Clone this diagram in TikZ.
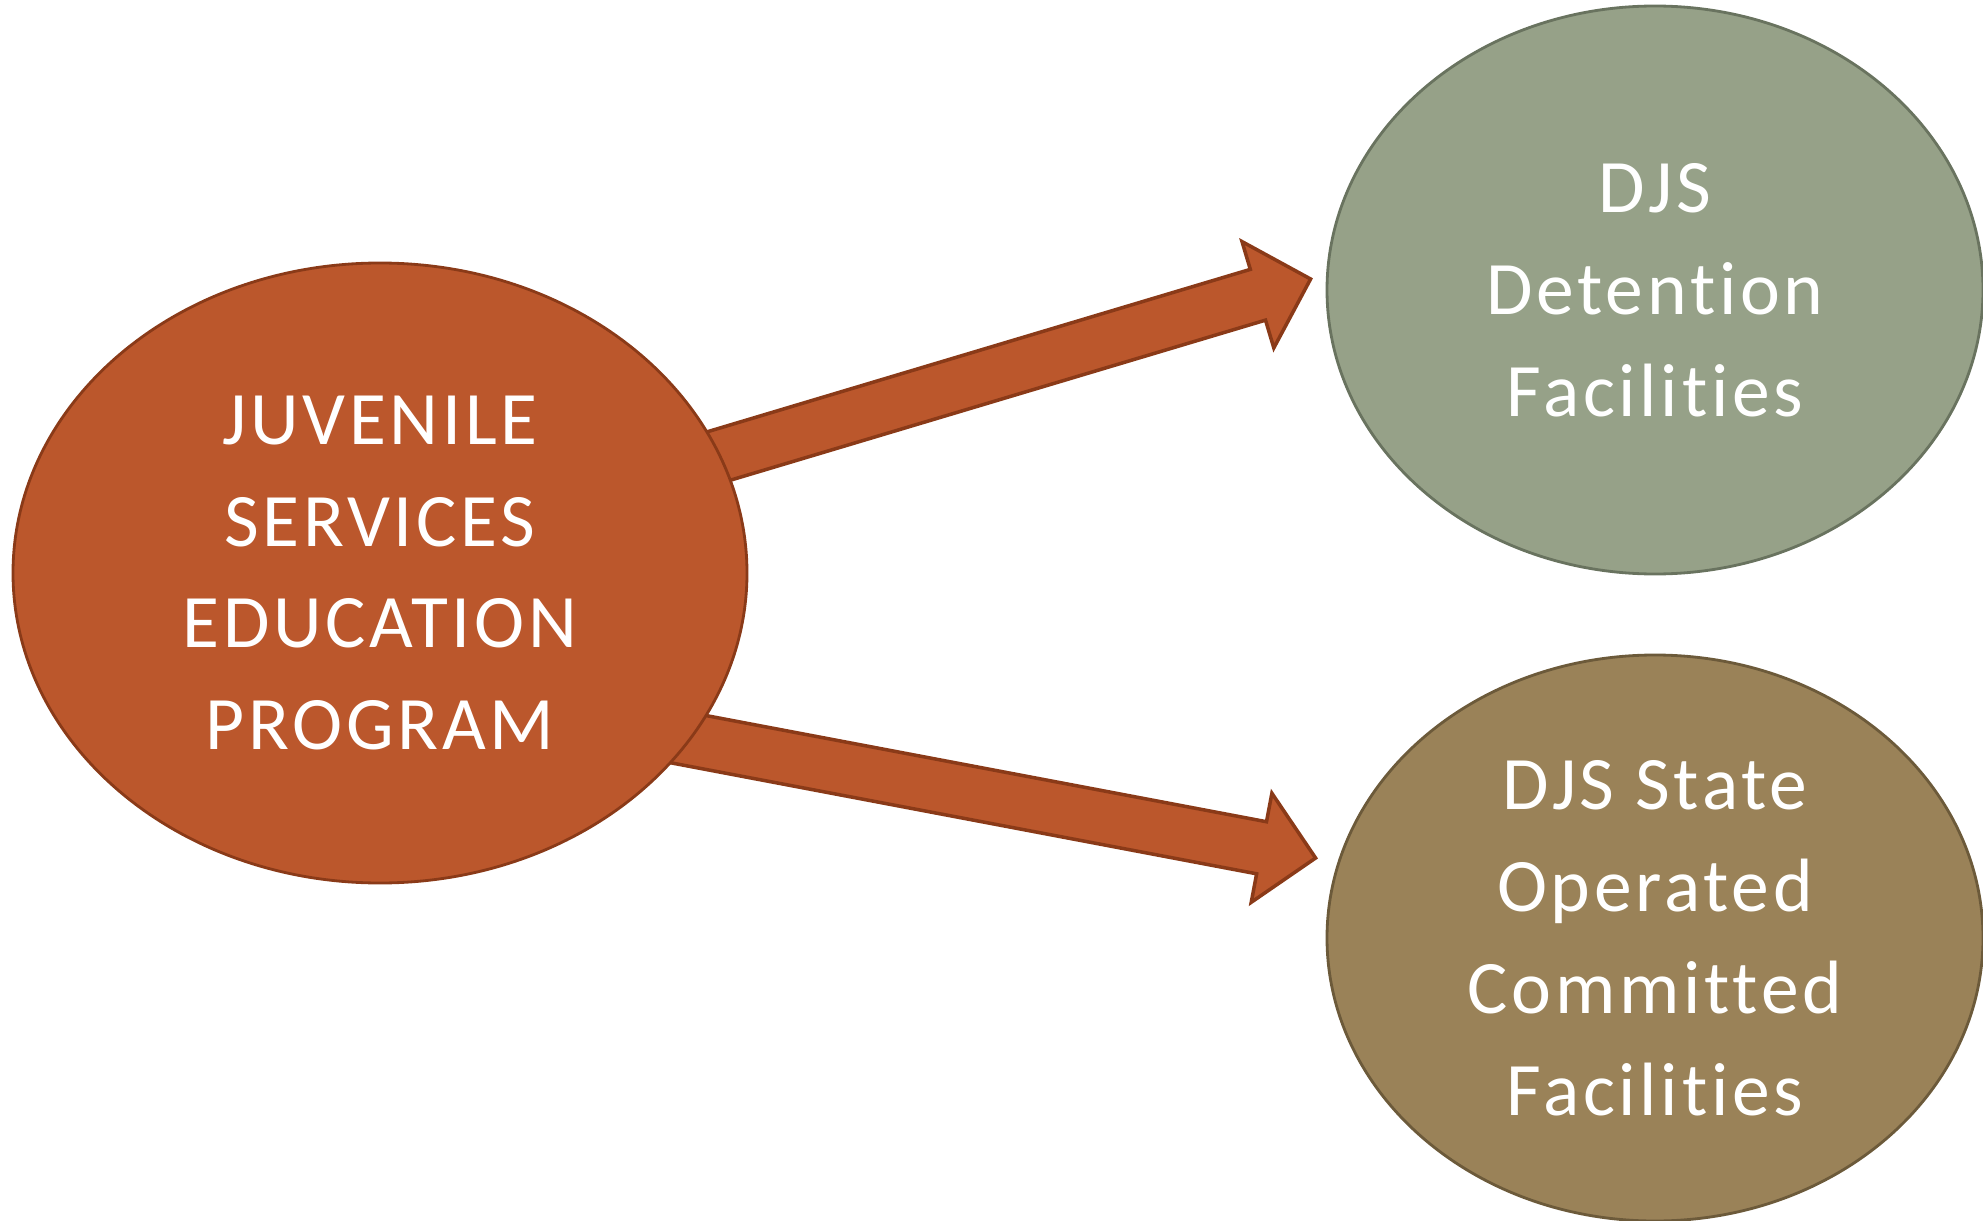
\documentclass[tikz,border=0pt]{standalone}
\usepackage{fontspec}
\setmainfont{Carlito}[LetterSpace=5, Ligatures=NoCommon]
\usepackage{xcolor}
\usetikzlibrary{positioning, calc, shapes.geometric, backgrounds}

\definecolor{rust}{RGB}{187,87,44}
\definecolor{rustline}{RGB}{138,58,24}
\definecolor{sage}{RGB}{150,161,136}
\definecolor{sageline}{RGB}{105,115,95}
\definecolor{khaki}{RGB}{154,130,88}
\definecolor{khakiline}{RGB}{108,90,58}

\tikzstyle{blob} = [ellipse, inner sep=0pt, align=center, text=white, line width=0.8pt, font=\fontsize{21.5}{29}\selectfont]
\tikzstyle{bigarrow} = [fill=rust, draw=rustline, line width=1pt, line join=miter]

% fat block arrow from #1 to the tip #2
\newcommand{\fatarrow}[2]{%
  \coordinate (ab) at ($(#2)!0.55cm!(#1)$);
  \draw[bigarrow] ($(#1)!0.265cm!90:(#2)$) -- ($(ab)!0.265cm!90:(#2)$)
    -- ($(ab)!0.555cm!90:(#2)$) -- (#2) -- ($(ab)!0.555cm!-90:(#2)$)
    -- ($(ab)!0.265cm!-90:(#2)$) -- ($(#1)!0.265cm!-90:(#2)$) -- cycle;
}

\begin{document}
\begin{tikzpicture}
    \useasboundingbox (0,0) rectangle (19.83,12.2);

    % Ellissi
    \node (juv) [blob, fill=rust, draw=rustline, minimum width=7.34cm, minimum height=6.2cm] at (3.8,6.47) {JUVENILE\\SERVICES\\EDUCATION\\PROGRAM};
    \node (det) [blob, fill=sage, draw=sageline, minimum width=6.56cm, minimum height=5.68cm] at (16.55,9.3) {DJS\\Detention\\Facilities};
    \node (com) [blob, fill=khaki, draw=khakiline, minimum width=6.56cm, minimum height=5.66cm] at (16.55,2.82) {DJS State\\Operated\\Committed\\Facilities};

    % Frecce
    \coordinate (detFrom) at ($(juv)+(2.92,1.03)$);
    \coordinate (detTip) at ($(det.west)+(-0.15,0.11)$);
    \coordinate (comFrom) at ($(juv)+(2.6,-1.57)$);
    \coordinate (comTip) at ($(com.west)+(-0.1,0.8)$);
    \begin{pgfonlayer}{background}
        \fatarrow{detFrom}{detTip}
        \fatarrow{comFrom}{comTip}
    \end{pgfonlayer}

\end{tikzpicture}
\end{document}
